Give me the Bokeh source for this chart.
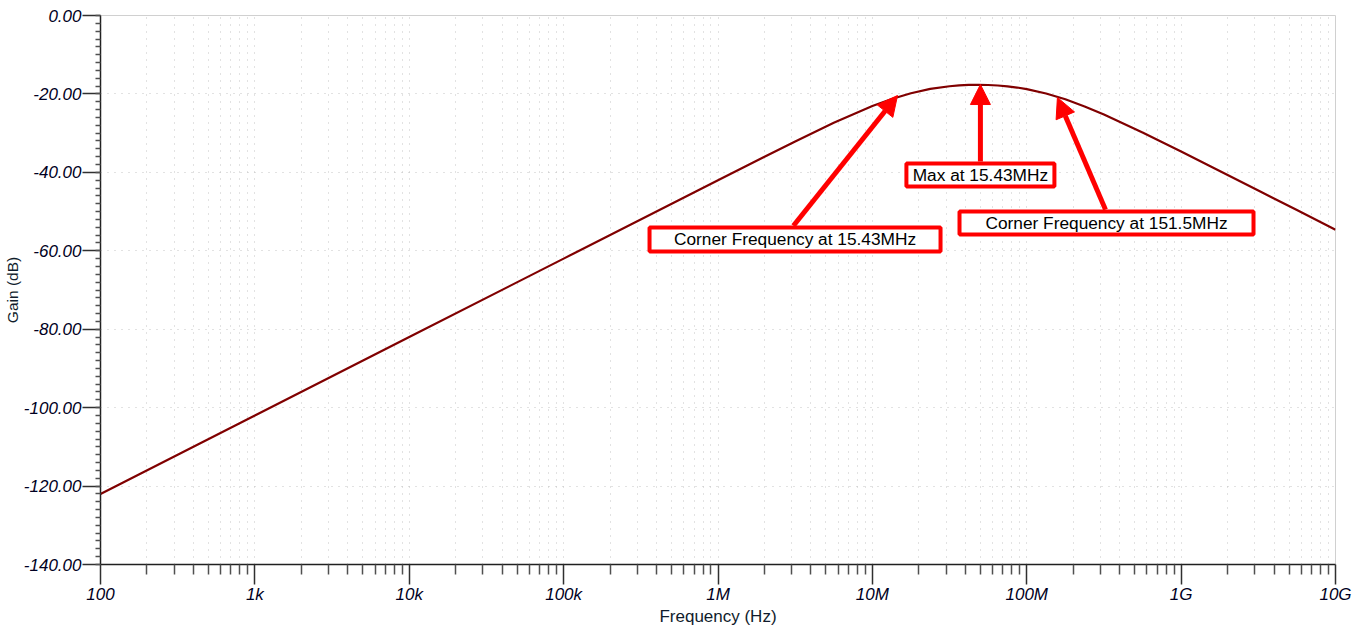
from bokeh.plotting import figure
from bokeh.models import Range1d, FixedTicker, Arrow, NormalHead, PrintfTickFormatter
from bokeh.embed import file_html
from bokeh.resources import INLINE
from bokeh.core.properties import value

# ---- data ----
freq_hz = [1e2, 1e3, 1e4, 1e5, 1e6, 1.778e6, 3.162e6, 5.623e6, 1e7, 1.334e7,
           1.778e7, 2.371e7, 3.162e7, 3.652e7, 4.217e7, 4.870e7, 5.623e7,
           6.494e7, 7.499e7, 8.660e7, 1e8, 1.334e8, 1.778e8, 2.371e8, 3.162e8,
           5.623e8, 1e9, 1.778e9, 3.162e9, 5.623e9, 1e10]
gain_db = [-122.0, -102.0, -82.0, -62.0, -42.01, -37.04, -32.12, -27.37, -23.09,
           -21.29, -19.82, -18.73, -18.04, -17.83, -17.71, -17.67, -17.72,
           -17.85, -18.06, -18.37, -18.78, -19.88, -21.37, -23.19, -25.25,
           -29.83, -34.68, -39.64, -44.63, -49.62, -54.62]

x_tick_values = [1e2, 1e3, 1e4, 1e5, 1e6, 1e7, 1e8, 1e9, 1e10]
x_tick_labels = ["100", "1k", "10k", "100k", "1M", "10M", "100M", "1G", "10G"]
y_tick_values = [-140, -120, -100, -80, -60, -40, -20, 0]

note_text = ["Corner Frequency at 15.43MHz", "Max at 15.43MHz",
             "Corner Frequency at 151.5MHz"]
note_freq = [3.155e6, 5.01e7, 3.286e8]
note_gain = [-57.1, -40.7, -52.9]
arrow_tip_freq = [1.455e7, 5.01e7, 1.58e8]
arrow_tip_gain = [-20.4, -17.6, -20.9]
arrow_tail_freq = [3.08e6, 5.01e7, 3.236e8]
arrow_tail_gain = [-53.6, -37.2, -49.5]

# ---- figure ----
p = figure(frame_width=1235, frame_height=549, x_axis_type="log",
           x_range=Range1d(1e2, 1e10), y_range=Range1d(-140, 0),
           output_backend="svg", toolbar_location=None,
           min_border_left=100, min_border_right=20,
           min_border_top=15, min_border_bottom=64)
p.background_fill_color = "white"
p.border_fill_color = "white"
p.outline_line_color = "#d0d0d0"
p.outline_line_width = 1

minor_x = [k * d for d in x_tick_values[:-1] for k in range(2, 10)]
xt = FixedTicker(ticks=x_tick_values, minor_ticks=minor_x)
yt = FixedTicker(ticks=y_tick_values, minor_ticks=list(range(-140, 1, 2)))
p.xaxis.ticker = xt
p.yaxis.ticker = yt
p.xgrid.ticker = xt
p.ygrid.ticker = yt

p.xaxis.major_label_overrides = {v: l for v, l in zip(x_tick_values, x_tick_labels)}
p.yaxis.formatter = PrintfTickFormatter(format="%.2f")

tick_font = "Liberation Sans"
for ax in (p.xaxis, p.yaxis):
    ax.major_label_text_font = tick_font
    ax.major_label_text_font_style = "italic"
    ax.major_label_text_font_size = "17px"
    ax.major_label_text_color = "#000022"
    ax.axis_label_text_font = tick_font
    ax.axis_label_text_font_style = "normal"
    ax.axis_label_text_color = "#101c2c"
    ax.axis_line_color = "#202020"
    ax.axis_line_width = 1.5
    ax.major_tick_line_color = "#303030"
    ax.major_tick_line_width = 1.5
    ax.minor_tick_line_color = "#505050"
    ax.minor_tick_line_width = 1.5
    ax.major_tick_in = 0
    ax.minor_tick_in = 0

p.xaxis.axis_label = "Frequency (Hz)"
p.xaxis.axis_label_text_font_size = "17px"
p.xaxis.major_tick_out = 20
p.xaxis.minor_tick_out = 10
p.xaxis.major_label_standoff = 0
p.xaxis.axis_label_standoff = 0

p.yaxis.axis_label = "Gain (dB)"
p.yaxis.axis_label_text_font_size = "15.5px"
p.yaxis.major_tick_out = 18
p.yaxis.minor_tick_out = 5
p.yaxis.major_label_standoff = 1
p.yaxis.axis_label_standoff = 0

p.xgrid.grid_line_color = "#c4c4c4"
p.xgrid.grid_line_dash = "1 6"
p.xgrid.minor_grid_line_color = "#c4c4c4"
p.xgrid.minor_grid_line_dash = "1 6"
p.ygrid.grid_line_color = "#c4c4c4"
p.ygrid.grid_line_dash = "1 6"

# ---- curve ----
p.line(freq_hz, gain_db, line_color="#800000", line_width=2.2)

# ---- annotations ----
for i in range(len(note_text)):
    p.add_layout(Arrow(
        end=NormalHead(size=20, fill_color="#ff0000", line_color="#ff0000", line_width=1),
        x_start=arrow_tail_freq[i], y_start=arrow_tail_gain[i],
        x_end=arrow_tip_freq[i], y_end=arrow_tip_gain[i],
        line_color="#ff0000", line_width=5))

box_w = [291, 148, 294]
box_h = [24, 23, 23]
p.rect(x=note_freq, y=note_gain, width=box_w, height=box_h,
       width_units="screen", height_units="screen",
       fill_color="white", line_color="#ff0000", line_width=4, level="overlay")
p.text(x=note_freq, y=note_gain, text=note_text, text_align="center",
       text_baseline="middle", text_font=value("Liberation Sans"),
       text_font_size="17.3px", text_color="#000000", level="overlay")

open("out.html", "w").write(file_html(p, INLINE))
